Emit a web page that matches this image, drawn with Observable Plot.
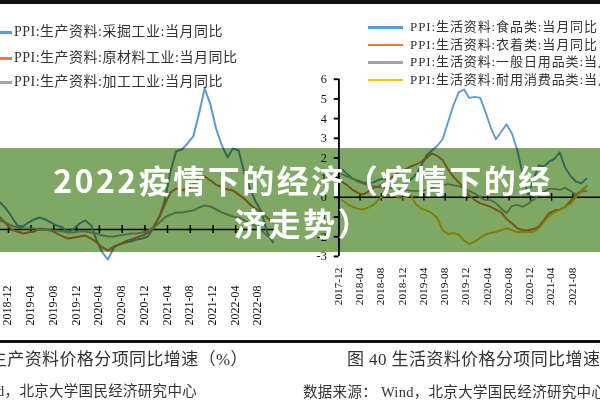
<!DOCTYPE html>
<html><head><meta charset="utf-8">
<script src="https://cdn.jsdelivr.net/npm/d3@7"></script>
<script src="https://cdn.jsdelivr.net/npm/@observablehq/plot@0.6"></script>
<style>
html,body{margin:0;padding:0;}
body{width:600px;height:400px;overflow:hidden;position:relative;background:#fff;
  font-family:"Liberation Serif","Noto Sans CJK SC",serif;color:#333;}
.abs{position:absolute;white-space:nowrap;}
.lg{font-size:14px;line-height:16px;letter-spacing:0.5px;color:#333;}
.lgr{font-size:13px;line-height:16px;letter-spacing:0.9px;color:#333;}
.seg{position:absolute;height:2.5px;}
.cap{font-size:17px;line-height:20px;letter-spacing:0.4px;color:#333;}
.src{font-size:14.5px;line-height:18px;letter-spacing:0.3px;color:#333;}
#banner{position:absolute;left:0;top:148px;width:600px;height:104px;background:rgb(126,168,100);mix-blend-mode:multiply;}
#bannerText{position:absolute;left:0;top:158px;width:606px;text-align:center;color:#fff;
  font-family:"Noto Sans CJK SC",sans-serif;font-weight:700;font-size:32px;line-height:43px;letter-spacing:2.5px;}
#topbar{position:absolute;left:0;top:0;width:600px;height:4px;background:#111;}
#rule{position:absolute;left:0;top:340px;width:600px;height:3px;background:#111;}
</style></head><body>
<div id="left" class="abs" style="left:-80px;top:0"></div>
<div id="right" class="abs" style="left:300px;top:0"></div>
<div id="topbar"></div>
<div id="legendL"></div>
<div id="legendR"></div>
<div id="rule"></div>
<div id="caps"></div>
<div id="banner"></div>
<div id="bannerText">2022疫情下的经济（疫情下的经<br>济走势）</div>
<script>
// ---------- Left chart: 生产资料 (monthly, 2018-10 .. 2022-10) ----------
const leftStart = "2018-10";
const leftEnd = "2022-10";
const leftTickLabels = ["2018-12","2019-04","2019-08","2019-12","2020-04","2020-08","2020-12","2021-04","2021-08","2021-12","2022-04","2022-08"];
const leftNames = ["PPI:生产资料:采掘工业:当月同比","PPI:生产资料:原材料工业:当月同比","PPI:生产资料:加工工业:当月同比"];
const leftMining = [19.7,15.3,9.5,2.9,2.2,5.1,7.3,8.8,7.3,5.1,2.9,1.5,-2.2,0.7,4.4,6.6,2.9,-8.0,-16.8,-21.9,-13.1,-10.9,-9.5,-8.8,-7.3,-6.6,-5.1,1.5,9.5,21.2,42.3,56.9,58.4,62.8,67.9,84.7,102.9,91.2,73.7,61.3,52.6,59.1,57.7,41.6,29.9,20.4,13.1,-2.2,-9.5];
const leftRaw = [8.8,4.4,0,-1.5,-2.9,-2.2,-1.5,0.7,0,-0.7,-2.9,-5.1,-6.6,-5.8,-5.1,-4.4,-6.6,-9.5,-13.1,-15.3,-12.4,-10.9,-8.8,-7.3,-5.8,-4.4,-2.2,2.2,9.5,18.2,27.0,29.9,28.5,29.9,32.8,38.0,38.7,35.8,32.8,30.7,29.2,28.5,25.5,22.6,18.2,15.3,12.4,8.8,5.1];
const leftProc = [6.6,5.1,2.9,1.5,0.7,0.7,0.7,0,0,-0.7,-0.7,-1.5,-2.2,-2.2,-1.5,-1.5,-2.2,-2.9,-4.4,-5.1,-5.1,-4.4,-3.6,-2.9,-2.9,-2.2,-0.7,1.5,5.1,8.8,10.9,12.4,12.4,13.1,13.9,16.1,17.5,16.8,14.6,12.4,10.9,9.5,8.8,6.6,4.4,2.2,-0.7,-4.4,-8.0];
const leftColors = ["#5b9bd5","#ed7d31","#a5a5a5"];

// ---------- Right chart: 生活资料 (monthly, 2017-12 .. 2021-10 visible) ----------
const rightStart = "2017-12";
const rightEnd = "2021-12";
const rightTickLabels = ["2017-12","2018-04","2018-08","2018-12","2019-04","2019-08","2019-12","2020-04","2020-08","2020-12","2021-04","2021-08"];
const rightYTicks = [-3,-2,-1,0,1,2,3,4,5,6];
const rightNames = ["PPI:生活资料:食品类:当月同比","PPI:生活资料:衣着类:当月同比","PPI:生活资料:一般日用品类:当月同比","PPI:生活资料:耐用消费品类:当月同比"];
const rightFood = [1.43,1.19,0.95,0.86,0.76,0.71,0.76,0.9,0.95,0.81,0.67,0.62,0.71,0.9,1.19,1.62,2.14,2.38,2.62,2.95,3.81,4.67,5.33,5.48,5.05,5.1,5.05,4.38,3.57,2.95,3.33,3.71,3.24,2.38,1.19,0.14,0.86,1.62,1.57,1.81,1.95,2.29,1.52,1.1,0.81,0.71,0.95];
const rightCloth = [0.81,0.62,0.38,0.24,0.14,0.29,0.48,0.57,0.71,0.95,1.14,1.33,1.43,1.57,1.67,1.81,2.0,2.24,2.1,1.9,1.43,1.05,0.76,0.48,0.1,-0.14,-0.29,-0.38,-0.48,-0.62,-0.76,-1.1,-1.33,-1.57,-1.67,-1.67,-1.62,-1.48,-1.14,-0.81,-0.67,-0.62,-0.48,-0.19,0.1,0.33,0.57];
const rightDaily = [1.19,1.05,0.95,0.81,0.71,0.62,0.57,0.52,0.48,0.48,0.43,0.38,0.38,0.33,0.33,0.33,0.38,0.48,0.57,0.62,0.67,0.62,0.57,0.48,0.33,0.19,0,-0.14,-0.14,-0.29,-0.57,-0.81,-0.43,-0.38,-0.48,-0.33,-0.14,0.14,0.29,0.43,0.43,0.38,0.48,0.33,0.14,0.29,0.33];
const rightDurable = [-0.14,-0.33,-0.48,-0.57,-0.62,-0.52,-0.38,-0.1,0.14,0.14,0.1,-0.05,0,0.1,-0.38,-0.57,-0.67,-0.81,-1.05,-1.67,-1.86,-1.81,-1.9,-2.19,-2.38,-2.24,-2.05,-1.9,-1.81,-1.76,-1.67,-1.57,-1.67,-1.76,-1.76,-1.76,-1.76,-1.57,-1.24,-0.95,-0.76,-0.62,-0.48,-0.33,0,0.29,0.57];
const rightColors = ["#5b9bd5","#ed7d31","#a5a5a5","#ffc000"];

const captionLeft1 = "图 39 生产资料价格分项同比增速（%）";
const captionLeft2 = "数据来源： Wind，北京大学国民经济研究中心";
const captionRight1 = "图 40 生活资料价格分项同比增速（%）";
const captionRight2 = "数据来源：  Wind，北京大学国民经济研究中心";

const parse = d3.utcParse("%Y-%m");
const monthsFrom = (start, n) => d3.range(n).map(i => d3.utcMonth.offset(parse(start), i));

function seriesLines(valuesList, colors, start) {
  return valuesList.map((vals, k) => {
    const months = monthsFrom(start, vals.length);
    return Plot.line(vals.map((v, i) => ({date: months[i], value: v})),
      {x: "date", y: "value", stroke: colors[k], strokeWidth: 2, curve: "linear"});
  });
}

const fontStyle = {background: "transparent", overflow: "visible", fontFamily: "Liberation Serif, serif", color: "#000"};

const leftPlot = Plot.plot({
  width: 360, height: 342,
  marginTop: 0, marginBottom: 17, marginLeft: 0, marginRight: 5,
  x: {type: "utc", domain: [parse(leftStart), parse(leftEnd)], range: [79.6, 352.3], axis: null},
  y: {domain: [-30, 110], range: [270.1, 78.3], axis: null},
  style: fontStyle,
  marks: [
    Plot.ruleY([0], {stroke: "#000", strokeWidth: 1.6}),
    Plot.ruleX(leftTickLabels.map(parse), {x: d => d, y1: -2.9, y2: 2.9, dx: -3, stroke: "#000", strokeWidth: 1.5}),
    ...seriesLines([leftMining, leftRaw, leftProc], leftColors, leftStart),
    Plot.text(leftTickLabels, {x: d => parse(d), text: d => d, frameAnchor: "bottom", rotate: -90,
      textAnchor: "start", fontSize: 12, fill: "#111"})
  ]
});
document.getElementById("left").appendChild(leftPlot);

const rightPlot = Plot.plot({
  width: 320, height: 342,
  marginTop: 84, marginBottom: 69, marginLeft: 41, marginRight: 0,
  x: {type: "utc", domain: [parse(rightStart), parse(rightEnd)], range: [44, 44 + 48 * 5.675], axis: null},
  y: {domain: [-3, 6], axis: null},
  style: fontStyle,
  marks: [
    Plot.ruleY([0], {stroke: "#000", strokeWidth: 1.6}),
    Plot.ruleX(rightTickLabels.map(parse), {x: d => d, y1: -0.19, y2: 0.19, dx: -3, stroke: "#000", strokeWidth: 1.5}),
    Plot.axisY({ticks: rightYTicks, tickSize: 5, tickPadding: 8, tickFormat: d => String(d), label: null,
      fontSize: 13, stroke: "#000", strokeWidth: 2, fill: "#111"}),
    Plot.ruleX([parse(rightStart)], {dx: -3, stroke: "#000", strokeWidth: 2}),
    ...seriesLines([rightFood, rightCloth, rightDaily, rightDurable], rightColors, rightStart),
    Plot.text(rightTickLabels, {x: d => parse(d), text: d => d, frameAnchor: "bottom", dy: 52, rotate: -90,
      textAnchor: "start", fontSize: 12, fill: "#111"})
  ]
});
document.getElementById("right").appendChild(rightPlot);

// legends
const lgL = document.getElementById("legendL");
const leftLegendY = [32, 58, 82];
leftNames.forEach((n, i) => {
  lgL.insertAdjacentHTML("beforeend",
    `<div class="seg" style="left:-10px;width:22px;top:${leftLegendY[i]-1}px;background:${leftColors[i]}"></div>` +
    `<div class="abs lg" style="left:14px;top:${leftLegendY[i]-8}px">${n}</div>`);
});
const lgR = document.getElementById("legendR");
const rightLegendY = [27, 44.5, 62, 79.5];
rightNames.forEach((n, i) => {
  lgR.insertAdjacentHTML("beforeend",
    `<div class="seg" style="left:368px;width:35px;top:${rightLegendY[i]-1}px;background:${rightColors[i]}"></div>` +
    `<div class="abs lgr" style="left:410px;top:${rightLegendY[i]-8}px">${n}</div>`);
});

// captions
document.getElementById("caps").innerHTML =
  `<div class="abs cap" style="right:352px;top:350px">${captionLeft1}</div>` +
  `<div class="abs src" style="right:403px;top:382px">${captionLeft2}</div>` +
  `<div class="abs cap" style="left:347px;top:350px">${captionRight1}</div>` +
  `<div class="abs src" style="left:303px;top:383px">${captionRight2}</div>`;
</script>
</body></html>
